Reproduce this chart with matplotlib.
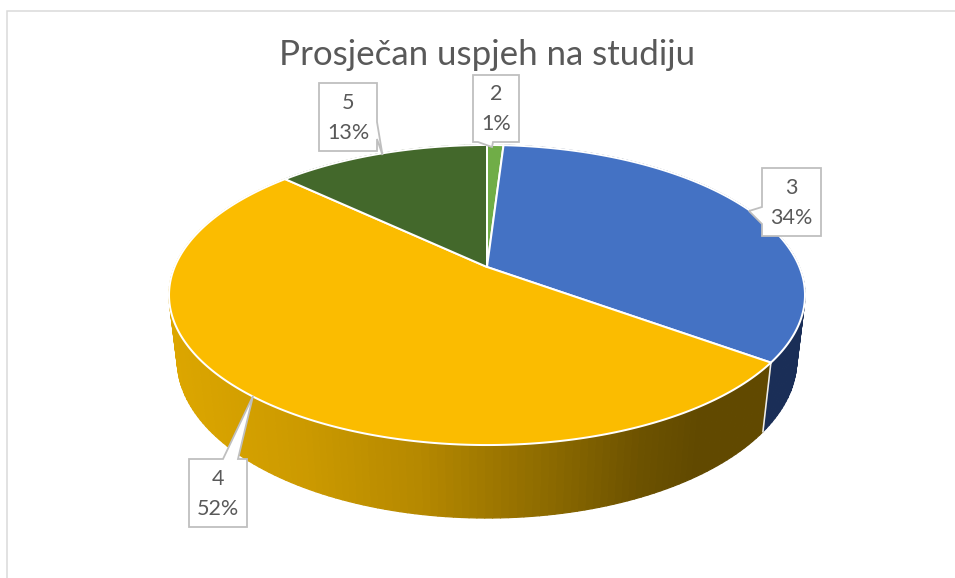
import numpy as np
import matplotlib
matplotlib.use('Agg')
import matplotlib.pyplot as plt
from matplotlib.collections import PolyCollection
from matplotlib.colors import to_rgb
from matplotlib.patches import Polygon

# ---- data
title = 'Prosječan uspjeh na studiju'
categories = ['2', '3', '4', '5']
shares = [1, 34, 52, 13]
percent_labels = ['1%', '34%', '52%', '13%']

# ---- style
top_colors = ['#70AD47', '#4472C4', '#FBBC00', '#43682B']
side_colors = ['#43682B', '#1A2E57', None, '#2A4019']
grad_x = [170, 300, 420, 540, 640, 700, 770]
grad_c = ['#DCA600', '#CC9A00', '#B58800', '#8F6C00', '#6D5200', '#614900', '#614900']
grad_rgb = np.array([to_rgb(c) for c in grad_c])

W, H = 955, 578
fig = plt.figure(figsize=(W / 100, H / 100), dpi=100)
ax = fig.add_axes([0, 0, 1, 1])
ax.set_xlim(0, W)
ax.set_ylim(H, 0)
ax.axis('off')
PX = 0.72  # points per pixel at dpi 100

# ---- perspective projection of the pie disc
X0, Y0, A, B, K = 487.0, 267.0, 312.4, 144.8, 0.1867
M, C = 0.0257, 65.8


def project(frac, depth=0.0):
    th = 2 * np.pi * np.asarray(frac)
    u, v = np.sin(th), -np.cos(th)
    d = 1 - K * v + M * depth
    return X0 + A * u / d, Y0 + (B * v + C * depth) / d


def grad_color(x):
    return [np.interp(x, grad_x, grad_rgb[:, i]) for i in range(3)]


edges = np.concatenate([[0], np.cumsum(shares)]) / sum(shares)

# sides first
for i in range(len(shares)):
    f = np.linspace(edges[i], edges[i + 1], max(3, int(shares[i] * 3)))
    xt, yt = project(f)
    xb, yb = project(f, 1.0)
    quads, cols = [], []
    for j in range(len(f) - 1):
        quads.append([(xt[j], yt[j]), (xt[j + 1], yt[j + 1]), (xb[j + 1], yb[j + 1]), (xb[j], yb[j])])
        xm = (xt[j] + xt[j + 1]) / 2
        cols.append(grad_color(xm) if side_colors[i] is None else to_rgb(side_colors[i]))
    ax.add_collection(PolyCollection(quads, facecolors=cols, edgecolors=cols, linewidths=0.9, zorder=1))

# white divider between the blue and yellow sides
xa, ya = project(edges[2])
xc, yc = project(edges[2], 1.0)
ax.plot([xa, xc], [ya, yc], color='#EDEDED', lw=1.6 * PX, zorder=2)

# top faces
for i in range(len(shares)):
    f = np.linspace(edges[i], edges[i + 1], max(3, int(shares[i] * 6)))
    xt, yt = project(f)
    pts = np.column_stack([np.r_[X0, xt], np.r_[Y0, yt]])
    ax.add_patch(Polygon(pts, closed=True, facecolor=top_colors[i], edgecolor='white',
                         lw=2.0 * PX, joinstyle='round', zorder=3))

# ---- chart frame
ax.plot([6.5, 6.5, W], [H, 11, 11], color='#D9D9D9', lw=1.5 * PX, zorder=0, solid_joinstyle='miter')

# ---- title
ax.text(487.5, 55, title, ha='center', va='center', fontsize=25.1, color='#595959',
        family=['Lato', 'DejaVu Sans'], zorder=6)

# ---- callouts: outline in pixels, text centre
callouts = {
    '5': ([(319, 83), (377, 83), (377, 122), (382.5, 155), (377, 139), (377, 151), (319, 151)], (348, 118)),
    '2': ([(473, 75), (519, 75), (519, 142), (493, 142), (492, 147), (478, 142), (473, 142)], (496, 109)),
    '3': ([(762, 168), (821, 168), (821, 236), (762, 236), (762, 224), (749, 211), (762, 207)], (791, 203)),
    '4': ([(189, 459), (223, 459), (253, 396), (238, 459), (247, 459), (247, 527), (189, 527)], (218, 494)),
}
for cat, pct in zip(categories, percent_labels):
    outline, (tx, ty) = callouts[cat]
    ax.add_patch(Polygon(outline, closed=True, facecolor='white', edgecolor='#BFBFBF',
                         lw=1.8 * PX, joinstyle='miter', zorder=4))
    ax.text(tx, ty, f'{cat}\n{pct}', ha='center', va='center', fontsize=15.5, color='#595959',
            family=['Lato', 'DejaVu Sans'], linespacing=1.65, zorder=5)

fig.savefig('out.png', dpi=100, facecolor='white')
